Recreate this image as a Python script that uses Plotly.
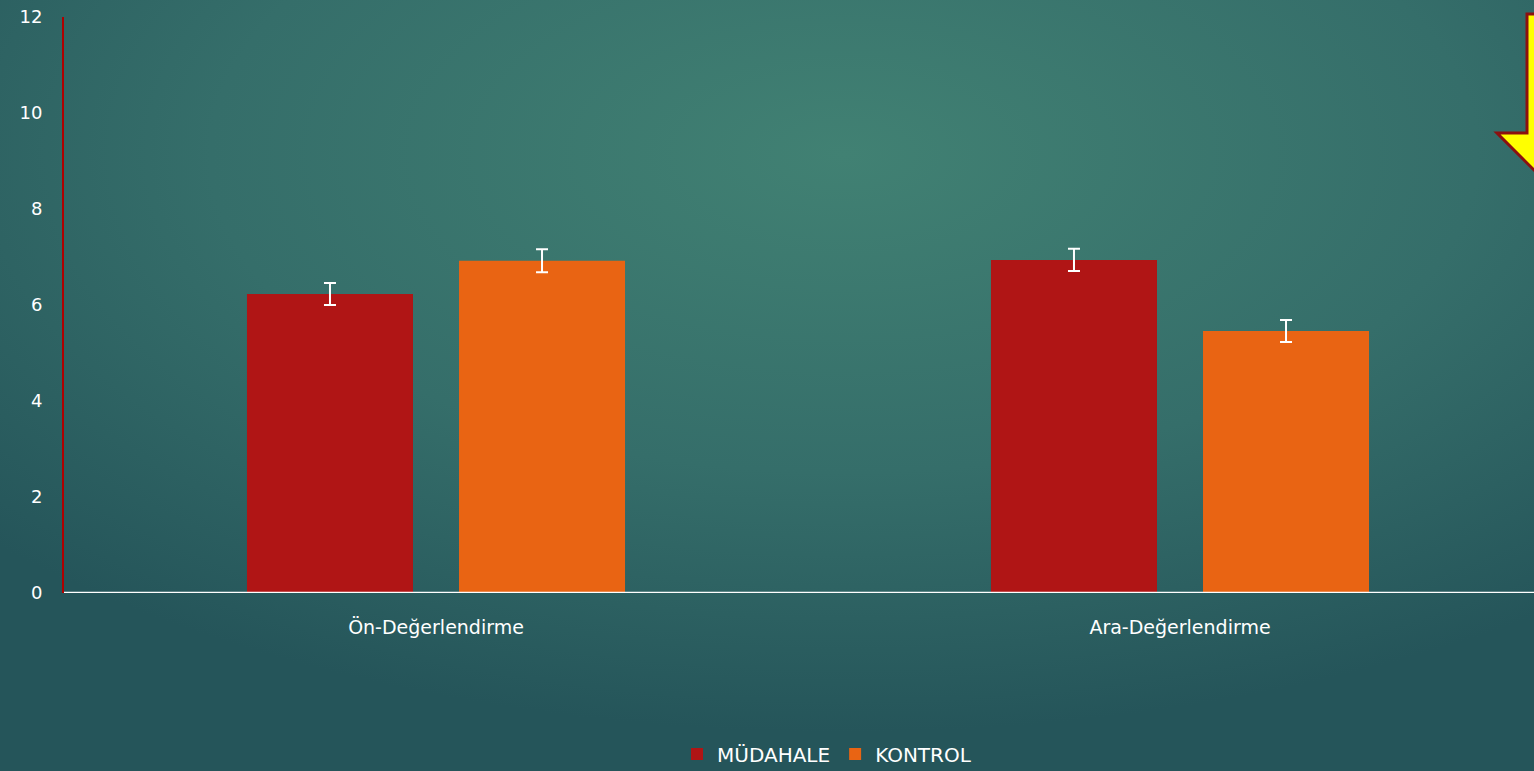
import base64
import plotly.graph_objects as go

categories = ["Ön-Değerlendirme", "Ara-Değerlendirme"]
mudahale = [6.23, 6.94]
mudahale_err = [0.23, 0.23]
kontrol = [6.92, 5.46]
kontrol_err = [0.24, 0.23]
y_ticks = [0, 2, 4, 6, 8, 10, 12]

W, H = 1534, 771
ML, MR, MT, MB = 64, 0, 17, 178
PW, PH = W - ML - MR, H - MT - MB

def px(x):
    return (x - ML) / PW

def py(y):
    return (H - MB - y) / PH

svg = f'''<svg xmlns="http://www.w3.org/2000/svg" width="{W}" height="{H}" viewBox="0 0 {W} {H}" preserveAspectRatio="none">
<defs><radialGradient id="g" cx="0.55" cy="0.2" r="0.75" gradientUnits="objectBoundingBox">
<stop offset="0" stop-color="#418173"/><stop offset="0.55" stop-color="#356e6a"/><stop offset="1" stop-color="#25555a"/>
</radialGradient></defs><rect width="{W}" height="{H}" fill="url(#g)"/></svg>'''
bg_uri = "data:image/svg+xml;base64," + base64.b64encode(svg.encode()).decode()

font = "'DejaVu Sans', sans-serif"

fig = go.Figure()
fig.add_trace(go.Bar(
    name="MÜDAHALE", x=categories, y=mudahale, marker_color="#b01515",
    marker_line_width=0,
    error_y=dict(type="data", array=mudahale_err, color="white", thickness=2, width=6),
))
fig.add_trace(go.Bar(
    name="KONTROL", x=categories, y=kontrol, marker_color="#e96413",
    marker_line_width=0,
    error_y=dict(type="data", array=kontrol_err, color="white", thickness=2, width=6),
))

arrow = [(1527, 14), (1567, 14), (1567, 133), (1597, 133), (1547, 183), (1497, 133), (1527, 133)]
path = "M " + " L ".join(f"{px(a):.5f},{py(b):.5f}" for a, b in arrow) + " Z"

fig.update_layout(
    width=W, height=H,
    margin=dict(l=ML, r=MR, t=MT, b=MB, pad=0, autoexpand=False),
    paper_bgcolor="#2f6363",
    plot_bgcolor="rgba(0,0,0,0)",
    barmode="group", bargap=0.43, bargroupgap=0.217,
    font=dict(family=font, color="white", size=16),
    images=[dict(source=bg_uri, xref="paper", yref="paper", x=px(0), y=py(0),
                 sizex=W / PW, sizey=H / PH, xanchor="left", yanchor="top",
                 sizing="stretch", layer="below")],
    shapes=[dict(type="path", xref="paper", yref="paper", path=path,
                 fillcolor="#ffff00", line=dict(color="#8b1010", width=3))],
    legend=dict(orientation="h", x=px(827), xanchor="center", y=py(754), yanchor="middle",
                font=dict(size=20, color="white"), bgcolor="rgba(0,0,0,0)",
                itemwidth=30, traceorder="normal"),
    xaxis=dict(range=[-0.5, -0.5 + PW / 744], showgrid=False, zeroline=False,
               showline=False, ticks="", tickfont=dict(size=19), ticklabelstandoff=21),
    yaxis=dict(range=[0, 12], tickvals=y_ticks, showgrid=False, zeroline=False,
               showline=True, linecolor="#b00000", linewidth=2, ticks="",
               tickfont=dict(size=18), ticklabelstandoff=16),
)
fig.add_shape(type="line", xref="paper", yref="y", x0=0, x1=1, y0=0, y1=0,
              line=dict(color="white", width=2.5))

fig.write_html("out.html", config={"displayModeBar": False})
with open("out.html", encoding="utf-8") as f:
    html = f.read()
html = html.replace("<head>", "<head><style>html,body{margin:0;padding:0;overflow:hidden;background:#25555a;}</style>", 1)
with open("out.html", "w", encoding="utf-8") as f:
    f.write(html)
